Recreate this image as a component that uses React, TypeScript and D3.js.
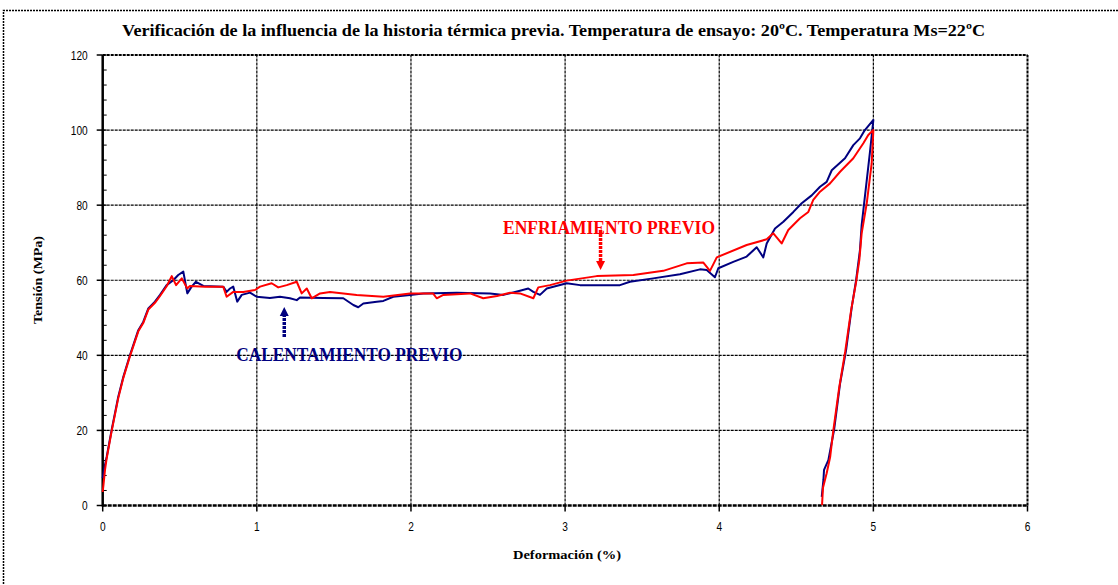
import React from "react";
import * as d3 from "d3";

const TITLE = "Verificación de la influencia de la historia térmica previa. Temperatura de ensayo: 20ºC. Temperatura Ms=22ºC";
const X_LABEL = "Deformación (%)";
const Y_LABEL = "Tensión (MPa)";
const xTicks = [0, 1, 2, 3, 4, 5, 6];
const yTicks = [0, 20, 40, 60, 80, 100, 120];
const yMinorTicks = d3.range(0, 121, 4);

// CALENTAMIENTO PREVIO (navy)
const calentamientoX = [0, 0.008, 0.026, 0.058, 0.101, 0.134, 0.177, 0.231, 0.263, 0.296, 0.339, 0.372, 0.415, 0.458, 0.49, 0.523, 0.549, 0.577, 0.605, 0.653, 0.782, 0.804, 0.826, 0.847, 0.873, 0.902, 0.956, 0.999, 1.085, 1.15, 1.215, 1.259, 1.28, 1.431, 1.561, 1.626, 1.658, 1.691, 1.778, 1.821, 1.885, 1.994, 2.08, 2.297, 2.513, 2.6, 2.707, 2.761, 2.794, 2.837, 2.881, 3.01, 3.097, 3.356, 3.421, 3.572, 3.745, 3.875, 3.919, 3.972, 3.994, 4.091, 4.178, 4.243, 4.286, 4.308, 4.362, 4.416, 4.481, 4.535, 4.6, 4.654, 4.697, 4.73, 4.816, 4.87, 4.913, 4.945, 5.0, 4.978, 4.924, 4.913, 4.888, 4.86, 4.823, 4.784, 4.745, 4.708, 4.68, 4.676, 4.665];
const calentamientoY = [7.3, 9.5, 13.0, 20.1, 29.0, 34.3, 40.1, 46.7, 48.9, 52.5, 54.3, 56.1, 58.7, 60.0, 61.4, 62.3, 56.5, 58.3, 59.6, 58.5, 58.3, 56.9, 57.8, 58.3, 54.3, 56.1, 56.7, 55.6, 55.3, 55.6, 55.2, 54.7, 55.4, 55.3, 55.2, 53.4, 52.8, 53.8, 54.3, 54.5, 55.6, 56.1, 56.5, 56.7, 56.5, 56.1, 57.2, 57.8, 56.9, 56.1, 57.8, 59.2, 58.7, 58.7, 59.6, 60.5, 61.6, 62.9, 62.7, 60.8, 63.2, 64.9, 66.3, 68.8, 66.1, 69.8, 73.8, 75.6, 78.2, 80.5, 82.6, 84.9, 86.2, 89.3, 92.5, 96.0, 97.8, 100.0, 102.7, 94.2, 74.7, 68.0, 60.0, 52.9, 41.4, 32.5, 20.1, 12.1, 9.5, 6.8, 2.3];

// ENFRIAMIENTO PREVIO (red)
const enfriamientoX = [0, 0.005, 0.015, 0.026, 0.058, 0.101, 0.134, 0.177, 0.231, 0.263, 0.296, 0.339, 0.372, 0.415, 0.448, 0.476, 0.513, 0.549, 0.566, 0.664, 0.782, 0.804, 0.847, 0.912, 0.988, 1.021, 1.096, 1.139, 1.194, 1.259, 1.291, 1.324, 1.356, 1.41, 1.475, 1.648, 1.821, 1.994, 2.143, 2.167, 2.21, 2.383, 2.469, 2.558, 2.643, 2.707, 2.794, 2.826, 2.902, 3.01, 3.205, 3.443, 3.637, 3.789, 3.897, 3.94, 3.984, 4.178, 4.308, 4.351, 4.405, 4.448, 4.524, 4.578, 4.61, 4.654, 4.719, 4.784, 4.87, 4.935, 4.967, 5.0, 4.989, 4.957, 4.924, 4.909, 4.888, 4.856, 4.817, 4.778, 4.739, 4.72, 4.697, 4.673, 4.667];
const enfriamientoY = [3.6, 5.5, 9.5, 12.6, 19.8, 28.6, 34.0, 39.8, 46.4, 48.6, 52.2, 54.0, 55.8, 58.4, 61.1, 58.7, 60.5, 57.8, 58.5, 58.3, 58.3, 55.6, 56.9, 56.9, 57.4, 58.3, 59.2, 58.1, 58.7, 59.6, 56.5, 57.8, 55.2, 56.5, 56.9, 56.1, 55.6, 56.5, 56.5, 55.2, 56.1, 56.5, 55.2, 55.8, 56.7, 56.5, 55.2, 58.1, 58.7, 59.9, 61.1, 61.4, 62.5, 64.5, 64.7, 62.5, 66.1, 69.4, 70.9, 72.5, 69.8, 73.4, 76.5, 78.2, 81.4, 83.6, 85.8, 88.9, 92.5, 96.5, 98.7, 100.0, 91.1, 80.5, 72.5, 65.4, 59.5, 52.1, 40.9, 31.3, 19.6, 13.0, 8.6, 4.7, 0.1];

const annotations = [
  { text: "ENFRIAMIENTO PREVIO", color: "#FF0000", x: 3.285, y: 72.2, len: 212, arrowX: 3.23, arrowFrom: 73.4, arrowTo: 62.7 },
  { text: "CALENTAMIENTO PREVIO", color: "#000080", x: 1.6, y: 38.5, len: 226, arrowX: 1.178, arrowFrom: 44.9, arrowTo: 52.9 },
];

const W = 1118;
const H = 585;
const serif = "'Liberation Serif', 'Times New Roman', serif";
const sans = "'Liberation Sans', Arial, sans-serif";

export default function App() {
  const x = d3.scaleLinear().domain([0, 6]).range([102.7, 1027.5]);
  const y = d3.scaleLinear().domain([0, 120]).range([505.5, 55]);
  const line = d3.line<[number, number]>().x((d) => x(d[0])).y((d) => y(d[1]));
  const calData: [number, number][] = calentamientoX.map((v, i) => [v, calentamientoY[i]]);
  const enfData: [number, number][] = enfriamientoX.map((v, i) => [v, enfriamientoY[i]]);
  const tickFs = 13;
  const cond = 0.78;

  return (
    <svg width={W} height={H} style={{ position: "absolute", left: 0, top: 0, background: "#fff" }}>
      <rect x={0} y={0} width={W} height={H} fill="#fff" />
      {/* outer border */}
      <path d={`M3.5,${H + 5} L3.5,10.5 L${W + 5},10.5`} fill="none" stroke="#000" strokeWidth={1.5} strokeDasharray="2,1" />
      <text x={553.5} y={36} textAnchor="middle" fontFamily={serif} fontWeight="bold" fontSize={17} textLength={863} lengthAdjust="spacingAndGlyphs">
        {TITLE}
      </text>
      {/* gridlines */}
      {yTicks.filter((t) => t > 0).map((t) => (
        <line key={"gy" + t} x1={x(0)} x2={x(6)} y1={y(t)} y2={y(t)} stroke="#000" strokeWidth={t === 120 ? 2 : 1.2} strokeDasharray="3,1" />
      ))}
      {xTicks.filter((t) => t > 0).map((t) => (
        <line key={"gx" + t} x1={x(t)} x2={x(t)} y1={y(0)} y2={y(120)} stroke="#000" strokeWidth={t === 6 ? 2 : 1.2} strokeDasharray="3,1" />
      ))}
      {/* minor ticks (inward) */}
      {yMinorTicks.map((t) => (
        <line key={"my" + t} x1={x(0)} x2={x(0) + 4} y1={y(t)} y2={y(t)} stroke="#000" strokeWidth={1} />
      ))}
      {/* major ticks */}
      {yTicks.map((t) => (
        <line key={"ty" + t} x1={x(0) - 6} x2={x(0)} y1={y(t)} y2={y(t)} stroke="#000" strokeWidth={1.5} />
      ))}
      {xTicks.map((t) => (
        <line key={"tx" + t} x1={x(t)} x2={x(t)} y1={y(0)} y2={y(0) + 6} stroke="#000" strokeWidth={1.5} />
      ))}
      {/* axes */}
      <line x1={x(0)} x2={x(0)} y1={y(0) + 1} y2={y(120)} stroke="#000" strokeWidth={2.5} />
      <line x1={x(0)} x2={x(6)} y1={y(0)} y2={y(0)} stroke="#000" strokeWidth={2.5} strokeDasharray="4,1" />
      {/* tick labels */}
      {yTicks.map((t) => {
        const s = String(t);
        return (
          <text key={"ly" + t} x={x(0) - 15} y={y(t) + 4.6} textAnchor="end" fontFamily={sans} fontSize={tickFs} textLength={s.length * 0.556 * tickFs * cond} lengthAdjust="spacingAndGlyphs">
            {s}
          </text>
        );
      })}
      {xTicks.map((t) => {
        const s = String(t);
        return (
          <text key={"lx" + t} x={x(t)} y={530.5} textAnchor="middle" fontFamily={sans} fontSize={tickFs} textLength={s.length * 0.556 * tickFs * cond} lengthAdjust="spacingAndGlyphs">
            {s}
          </text>
        );
      })}
      <text x={567} y={558.5} textAnchor="middle" fontFamily={serif} fontWeight="bold" fontSize={13} textLength={108} lengthAdjust="spacingAndGlyphs">
        {X_LABEL}
      </text>
      <text transform="translate(41.5,280) rotate(-90)" textAnchor="middle" fontFamily={serif} fontWeight="bold" fontSize={13} textLength={88} lengthAdjust="spacingAndGlyphs">
        {Y_LABEL}
      </text>
      {/* curves */}
      <path d={line(calData) || ""} fill="none" stroke="#000080" strokeWidth={2} strokeLinejoin="round" />
      <path d={line(enfData) || ""} fill="none" stroke="#FF0000" strokeWidth={2} strokeLinejoin="round" />
      {/* annotations */}
      {annotations.map((a) => {
        const ax = x(a.arrowX);
        const y1 = y(a.arrowFrom);
        const tip = y(a.arrowTo);
        const dir = tip > y1 ? 1 : -1;
        const headBase = tip - dir * 9;
        return (
          <g key={a.text}>
            <text x={x(a.x)} y={y(a.y)} textAnchor="middle" fontFamily={serif} fontWeight="bold" fontSize={18} fill={a.color} textLength={a.len} lengthAdjust="spacingAndGlyphs">
              {a.text}
            </text>
            <line x1={ax} x2={ax} y1={y1} y2={headBase} stroke={a.color} strokeWidth={3.5} strokeDasharray="3,1" />
            <path d={`M${ax - 4.5},${headBase} L${ax + 4.5},${headBase} L${ax},${tip} Z`} fill={a.color} />
          </g>
        );
      })}
    </svg>
  );
}
